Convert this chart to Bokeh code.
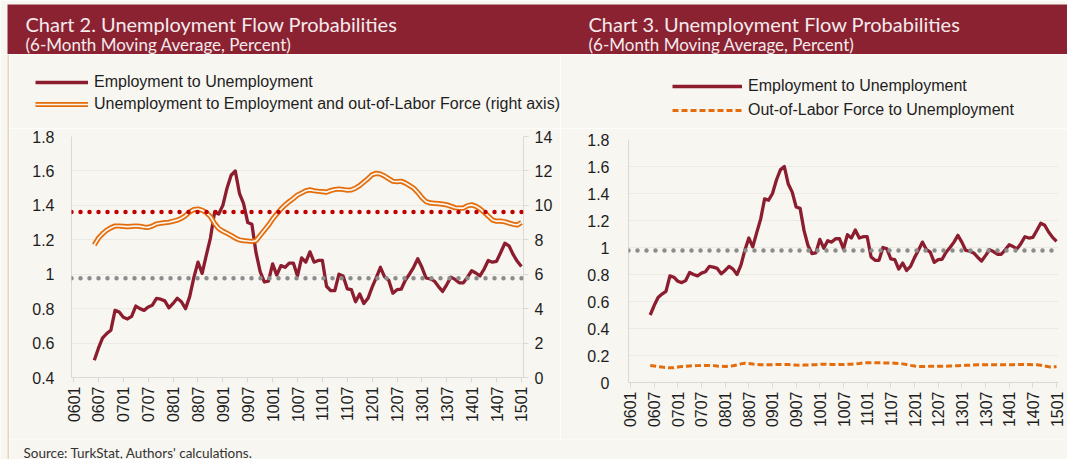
import math
import numpy as np
from bokeh.plotting import figure
from bokeh.models import (Range1d, LinearAxis, FixedTicker, CustomJSTickFormatter,
                          Span, Legend, LegendItem, Label)
from bokeh.layouts import row, column
from bokeh.embed import file_html
from bokeh.resources import INLINE

# ---------------- data ----------------
# monthly categories 0601 .. 1501 (YYMM)
months = ["%02d%02d" % (y, m) for y in range(6, 16) for m in range(1, 13)]
months = months[:months.index("1501") + 1]
x_tick_labels = months[::6]          # 0601, 0607, ..., 1501
series_months = months[months.index("0606"):]   # 6-month moving average starts 0606

# Employment to Unemployment (percent)
emp_to_unemp = [
    0.50, 0.57, 0.63, 0.655, 0.675, 0.79, 0.78, 0.75, 0.74, 0.755,
    0.815, 0.80, 0.79, 0.81, 0.82, 0.86, 0.855, 0.845, 0.805, 0.83,
    0.86, 0.84, 0.80, 0.87, 0.98, 1.07, 1.005, 1.11, 1.21, 1.36,
    1.35, 1.40, 1.50, 1.575, 1.60, 1.47, 1.41, 1.30, 1.29, 1.125,
    1.015, 0.955, 0.96, 1.06, 0.995, 1.05, 1.04, 1.065, 1.065, 0.99,
    1.095, 1.07, 1.13, 1.07, 1.08, 1.08, 0.93, 0.905, 0.905, 1.00,
    0.99, 0.915, 0.91, 0.84, 0.885, 0.83, 0.86, 0.925, 0.98, 1.04,
    0.985, 0.965, 0.89, 0.91, 0.913, 0.965, 1.00, 1.04, 1.09, 1.04,
    0.978, 0.973, 0.96, 0.928, 0.90, 0.94, 0.983, 0.97, 0.95, 0.95,
    0.983, 1.02, 1.007, 0.99, 1.03, 1.08, 1.07, 1.075, 1.126, 1.18,
    1.165, 1.115, 1.075, 1.045,
]

# Unemployment to Employment and out-of-Labor Force (percent, right axis)
unemp_to_emp_olf = [
    7.70, 8.10, 8.35, 8.56, 8.70, 8.80, 8.80, 8.78, 8.76, 8.78,
    8.80, 8.78, 8.74, 8.72, 8.80, 8.92, 8.96, 9.00, 9.02, 9.08,
    9.14, 9.25, 9.40, 9.62, 9.76, 9.78, 9.72, 9.58, 9.35, 8.95,
    8.65, 8.50, 8.38, 8.25, 8.10, 7.99, 7.95, 7.93, 7.90, 7.95,
    8.25, 8.55, 8.85, 9.20, 9.50, 9.78, 10.02, 10.22, 10.40, 10.60,
    10.72, 10.85, 10.90, 10.85, 10.82, 10.80, 10.77, 10.86, 10.92, 10.95,
    10.92, 10.88, 10.90, 11.00, 11.15, 11.35, 11.55, 11.78, 11.86, 11.82,
    11.70, 11.55, 11.40, 11.38, 11.40, 11.30, 11.15, 11.00, 10.75, 10.45,
    10.22, 10.14, 10.12, 10.10, 10.07, 10.03, 9.95, 9.86, 9.84, 9.84,
    9.98, 10.03, 9.95, 9.80, 9.60, 9.38, 9.15, 9.08, 9.08, 9.05,
    8.97, 8.90, 8.86, 9.00,
]

# Out-of-Labor Force to Unemployment (percent)
olf_to_unemp = [
    0.126, 0.122, 0.118, 0.114, 0.111,
    0.109, 0.110, 0.114, 0.118, 0.121,
    0.123, 0.124, 0.125, 0.126, 0.126,
    0.126, 0.125, 0.122, 0.120, 0.119,
    0.121, 0.124, 0.130, 0.138, 0.143,
    0.141, 0.137, 0.134, 0.132, 0.131,
    0.131, 0.132, 0.133, 0.134, 0.134,
    0.133, 0.131, 0.129, 0.128, 0.129,
    0.130, 0.131, 0.132, 0.134, 0.136,
    0.135, 0.134, 0.133, 0.133, 0.134,
    0.135, 0.136, 0.138, 0.141, 0.145,
    0.146, 0.146, 0.146, 0.146, 0.145,
    0.145, 0.144, 0.143, 0.141, 0.138,
    0.133, 0.127, 0.122, 0.119, 0.118,
    0.119, 0.120, 0.121, 0.121, 0.121,
    0.121, 0.122, 0.123, 0.124, 0.126,
    0.127, 0.128, 0.130, 0.131, 0.131,
    0.131, 0.131, 0.131, 0.131, 0.131,
    0.131, 0.131, 0.132, 0.133, 0.133,
    0.133, 0.133, 0.132, 0.131, 0.128,
    0.122, 0.116, 0.114, 0.118,
]

# reference lines (period averages)
emp_to_unemp_avg = 0.977
unemp_to_emp_olf_avg = 9.62

left_ticks_c2 = [0.4, 0.6, 0.8, 1.0, 1.2, 1.4, 1.6, 1.8]
right_ticks_c2 = [0, 2, 4, 6, 8, 10, 12, 14]
left_ticks_c3 = [0.0, 0.2, 0.4, 0.6, 0.8, 1.0, 1.2, 1.4, 1.6, 1.8]

titles = ["Chart 2. Unemployment Flow Probabilities", "Chart 3. Unemployment Flow Probabilities"]
subtitle = "(6-Month Moving Average, Percent)"
source_text = "Source: TurkStat, Authors' calculations."
legend_c2 = ["Employment to Unemployment",
             "Unemployment to Employment and out-of-Labor Force (right axis)"]
legend_c3 = ["Employment to Unemployment", "Out-of-Labor Force to Unemployment"]

# ---------------- style ----------------
BG = "#F8F6F1"
BAND = "#8A2232"
TAN = "#E2D6B4"
MAROON = "#8C1D2F"
ORANGE = "#E46C0A"
AXIS = "#D9D9D9"
GRID = "#ECEAE4"
TXT = "#1E1E1E"
TICK_FONT = "Liberation Sans"
TITLE_FONT = "Lato"
W, H = 1067, 459

x_idx = [months.index(m) for m in series_months]
x_tick_pos = [months.index(m) for m in x_tick_labels]
num_fmt = CustomJSTickFormatter(code="return String(Math.round(tick*10)/10);")

EU_STYLE = dict(line_color=MAROON, line_width=3.3, line_join="round")
UE_OUT = dict(line_color=ORANGE, line_width=5.2, line_join="round")
UE_IN = dict(line_color=BG, line_width=1.7, line_join="round")
OLF_STYLE = dict(line_color=ORANGE, line_width=3, line_dash="6 3")


def style_xaxis(ax):
    ax.ticker = FixedTicker(ticks=x_tick_pos)
    ax.major_label_overrides = {p: l for p, l in zip(x_tick_pos, x_tick_labels)}
    ax.major_label_orientation = math.pi / 2
    ax.axis_line_color = AXIS
    ax.major_tick_line_color = AXIS
    ax.major_tick_out = 5
    ax.major_tick_in = 0
    ax.minor_tick_line_color = None
    ax.major_label_standoff = 4
    ax.major_label_text_font = TICK_FONT
    ax.major_label_text_font_size = "16px"
    ax.major_label_text_color = TXT


def style_yaxis(ax, ticks, ticks_visible=False, standoff=12):
    ax.ticker = FixedTicker(ticks=ticks)
    ax.formatter = num_fmt
    ax.axis_line_color = AXIS
    ax.major_tick_line_color = AXIS if ticks_visible else None
    ax.major_tick_out = 5
    ax.major_tick_in = 0
    ax.minor_tick_line_color = None
    ax.major_label_standoff = standoff
    ax.major_label_text_font = TICK_FONT
    ax.major_label_text_font_size = "16px"
    ax.major_label_text_color = TXT


def base_fig(width, height, y_range, mbl, mbr, mbt, mbb):
    p = figure(width=width, height=height, x_range=Range1d(-0.5, len(months) - 0.5),
               y_range=y_range, output_backend="svg", toolbar_location=None,
               min_border_left=mbl, min_border_right=mbr, min_border_top=mbt,
               min_border_bottom=mbb, background_fill_color=BG, border_fill_color=BG,
               outline_line_color=None)
    p.xgrid.visible = False
    p.ygrid.grid_line_color = GRID
    return p


def blank_fig(width, height, fill, **kw):
    p = figure(width=width, height=height, x_axis_location=None, y_axis_location=None,
               output_backend="svg", toolbar_location=None, background_fill_color=fill,
               outline_line_color=None, **kw)
    p.grid.visible = False
    return p


def legend_fig(width, height, items, inset_left, margin, gw, spacing):
    """A strip above a chart that only holds the chart's legend."""
    p = blank_fig(width, height, BG, x_range=Range1d(0, 1), y_range=Range1d(0, 1),
                  min_border_left=inset_left, min_border_right=0, min_border_top=0,
                  min_border_bottom=0, border_fill_color=BG)
    nan = np.array([np.nan])
    leg_items = []
    for label, styles in items:
        rs = [p.line(x=nan, y=nan, **s) for s in styles]
        leg_items.append(LegendItem(label=label, renderers=rs))
    lg = Legend(items=leg_items, location="top_left")
    lg.background_fill_alpha = 0
    lg.border_line_color = None
    lg.label_text_font = TICK_FONT
    lg.label_text_font_size = "16px"
    lg.label_text_color = TXT
    lg.glyph_width = gw
    lg.glyph_height = 20
    lg.label_height = 20
    lg.spacing = spacing
    lg.padding = 0
    lg.margin = margin
    lg.label_standoff = 6
    p.add_layout(lg)
    return p


# ---------------- Chart 2 ----------------
p2 = base_fig(551, 311, Range1d(0.4, 1.8), 62, 37, 8, 62)
p2.extra_y_ranges = {"right": Range1d(0, 14)}
p2.ygrid.ticker = FixedTicker(ticks=left_ticks_c2)
style_xaxis(p2.xaxis[0])
style_yaxis(p2.yaxis[0], left_ticks_c2)
rax = LinearAxis(y_range_name="right")
p2.add_layout(rax, "right")
style_yaxis(rax, right_ticks_c2, ticks_visible=True, standoff=6)

p2.line(x_idx, emp_to_unemp, **EU_STYLE)
p2.line(x_idx, unemp_to_emp_olf, y_range_name="right", **UE_OUT)
p2.line(x_idx, unemp_to_emp_olf, y_range_name="right", **UE_IN)

p2.add_layout(Span(location=unemp_to_emp_olf_avg, dimension="width", y_range_name="right",
                   line_color="#C00000", line_width=4.5, line_dash="0 9", line_cap="round"))
p2.add_layout(Span(location=emp_to_unemp_avg, dimension="width",
                   line_color="#8C8C8C", line_width=4.5, line_dash="0 9", line_cap="round"))

lf2 = legend_fig(551, 74, [(legend_c2[0], [EU_STYLE]), (legend_c2[1], [UE_OUT, UE_IN])],
                 8, 18, 53, 2)

# ---------------- Chart 3 ----------------
p3 = base_fig(507, 311, Range1d(0, 1.8), 68, 9, 11, 57)
p3.ygrid.ticker = FixedTicker(ticks=left_ticks_c3)
style_xaxis(p3.xaxis[0])
style_yaxis(p3.yaxis[0], left_ticks_c3, standoff=14)

p3.line(x_idx, emp_to_unemp, **EU_STYLE)
p3.line(x_idx, olf_to_unemp, **OLF_STYLE)
p3.add_layout(Span(location=emp_to_unemp_avg, dimension="width",
                   line_color="#8C8C8C", line_width=4.5, line_dash="0 9", line_cap="round"))

lf3 = legend_fig(507, 74, [(legend_c3[0], [EU_STYLE]), (legend_c3[1], [OLF_STYLE])],
                 90, 22, 70, 4)

# ---------------- title band (beige edge on top/left) ----------------
band = blank_fig(W, 54, BAND, x_range=Range1d(7, W), y_range=Range1d(54, 4),
                 min_border_top=4, min_border_left=7, min_border_right=0,
                 min_border_bottom=0, border_fill_color=BG)
for tx, t in zip([25, 588], titles):
    band.add_layout(Label(x=tx, y=23, text=t, text_font=TITLE_FONT, text_font_size="20px",
                          text_color="#F4EAEC", text_baseline="middle"))
    band.add_layout(Label(x=tx, y=44, text=subtitle, text_font=TITLE_FONT,
                          text_font_size="17px", text_color="#F4EAEC",
                          text_baseline="middle"))

# ---------------- left rule and source ----------------
tan = blank_fig(9, H - 54, TAN, x_range=Range1d(0, 1), y_range=Range1d(0, 1),
                min_border_left=7, min_border_right=0, min_border_top=0,
                min_border_bottom=0, border_fill_color=BG)

src = blank_fig(W - 9, 20, BG, x_range=Range1d(9, W), y_range=Range1d(459, 439),
                min_border=0, border_fill_color=BG)
src.add_layout(Label(x=23, y=452, text=source_text, text_font=TITLE_FONT,
                     text_font_size="13.5px", text_color="#333333", text_baseline="middle"))

# single-child wrappers keep each figure's own borders (no frame alignment between them)
legends = row(column(lf2), column(lf3))
charts = row(column(p2), column(p3))
layout = column(band, row(tan, column(legends, charts, src)))

open("out.html", "w").write(file_html(layout, INLINE))
